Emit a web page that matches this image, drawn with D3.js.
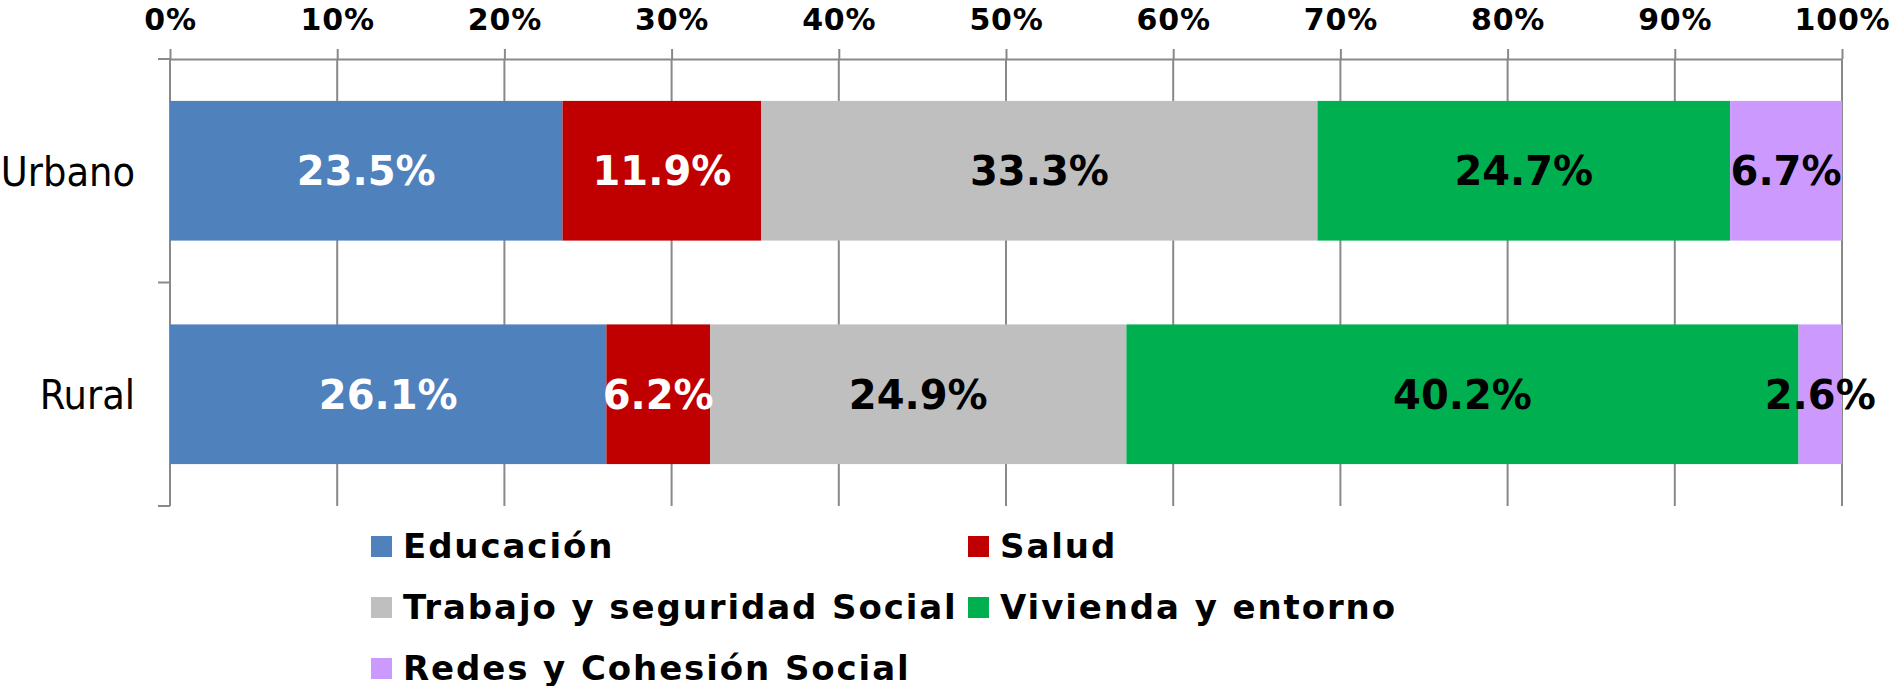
<!DOCTYPE html>
<html>
<head>
<meta charset="utf-8">
<script src="https://cdn.jsdelivr.net/npm/d3@7"></script>
<style>
  body { margin: 0; background: #fff; }
  svg { display: block; }
</style>
</head>
<body>
<svg id="chart" width="1890" height="686"></svg>
<script>
// categories and series
const categories = ["Urbano", "Rural"];
const seriesNames = ["Educación", "Salud", "Trabajo y seguridad Social", "Vivienda y entorno", "Redes y Cohesión Social"];
const educacion = [23.5, 26.1];
const salud = [11.9, 6.2];
const trabajo = [33.3, 24.9];
const vivienda = [24.7, 40.2];
const redes = [6.7, 2.6];
const xTicks = [0, 0.1, 0.2, 0.3, 0.4, 0.5, 0.6, 0.7, 0.8, 0.9, 1];

const colors = ["#4F81BD", "#C00000", "#BFBFBF", "#00B050", "#CC99FF"];
const labelColors = ["#fff", "#fff", "#000", "#000", "#000"];

let dims = {
    width: 1890, height: 686,
    margin: { top: 59, bottom: 180, left: 170, right: 48 }
};

// rows for d3.stack
const seriesValues = [educacion, salud, trabajo, vivienda, redes];
const rows = categories.map((c, i) => {
    let r = { cat: c };
    seriesNames.forEach((s, j) => r[s] = seriesValues[j][i]);
    return r;
});

const stacked = d3.stack()
    .keys(seriesNames)
    .offset(d3.stackOffsetExpand)(rows);

const svg = d3.select("#chart");
const plotBottom = dims.height - dims.margin.bottom;

const x = d3.scaleLinear()
    .domain([0, 1])
    .range([dims.margin.left, dims.width - dims.margin.right]);

const y = d3.scaleBand()
    .domain(categories)
    .range([dims.margin.top, plotBottom])
    .paddingInner(0.375)
    .paddingOuter(0.1875);

const gridColor = "#898989";
const boldFont = "'DejaVu Sans', Verdana, sans-serif";

// vertical gridlines
svg.append("g")
    .selectAll("line")
    .data(xTicks)
    .join("line")
    .attr("x1", d => x(d)).attr("x2", d => x(d))
    .attr("y1", dims.margin.top).attr("y2", plotBottom)
    .attr("stroke", gridColor)
    .attr("stroke-width", 2);

// top axis
const xAxis = svg.append("g")
    .attr("transform", "translate(0," + dims.margin.top + ")")
    .call(d3.axisTop(x).tickValues(xTicks).tickFormat(d3.format(".0%")).tickSize(10).tickPadding(19).tickSizeOuter(0));
xAxis.select(".domain").attr("stroke", gridColor).attr("stroke-width", 2);
xAxis.selectAll(".tick line").attr("stroke", gridColor).attr("stroke-width", 2);
xAxis.selectAll(".tick text")
    .attr("font-family", boldFont)
    .attr("font-weight", "bold")
    .attr("font-size", "30px")
    .attr("letter-spacing", "0.8px")
    .attr("fill", "#000");

// left axis line with boundary ticks
const halfGap = y.step() * y.paddingInner() / 2;
const bounds = categories.map(c => y(c) - halfGap).concat([plotBottom]);
bounds[0] = dims.margin.top;
svg.append("line")
    .attr("x1", x(0)).attr("x2", x(0))
    .attr("y1", dims.margin.top).attr("y2", plotBottom)
    .attr("stroke", gridColor).attr("stroke-width", 2);
svg.append("g")
    .selectAll("line")
    .data(bounds)
    .join("line")
    .attr("x1", x(0) - 12).attr("x2", x(0))
    .attr("y1", d => d).attr("y2", d => d)
    .attr("stroke", gridColor).attr("stroke-width", 2);

// category labels
svg.append("g")
    .selectAll("text")
    .data(categories)
    .join("text")
    .attr("x", x(0) - 35)
    .attr("y", d => y(d) + y.bandwidth() / 2)
    .attr("dy", "0.36em")
    .attr("text-anchor", "end")
    .attr("font-family", "'DejaVu Sans Condensed', 'DejaVu Sans', sans-serif")
    .attr("font-size", "41px")
    .attr("fill", "#000")
    .text(d => d);

// bars
const layers = svg.append("g")
    .selectAll("g")
    .data(stacked)
    .join("g")
    .attr("fill", (d, i) => colors[i]);

layers.selectAll("rect")
    .data(d => d)
    .join("rect")
    .attr("x", d => x(d[0]))
    .attr("width", d => x(d[1]) - x(d[0]))
    .attr("y", d => y(d.data.cat))
    .attr("height", y.bandwidth());

// value labels
svg.append("g")
    .selectAll("g")
    .data(stacked)
    .join("g")
    .attr("fill", (d, i) => labelColors[i])
    .selectAll("text")
    .data(d => d.map(p => ({ p: p, v: p.data[d.key] })))
    .join("text")
    .attr("x", d => (x(d.p[0]) + x(d.p[1])) / 2)
    .attr("y", d => y(d.p.data.cat) + y.bandwidth() / 2)
    .attr("dy", "0.36em")
    .attr("text-anchor", "middle")
    .attr("font-family", boldFont)
    .attr("font-weight", "bold")
    .attr("font-size", "40px")
    .text(d => d.v.toFixed(1) + "%");

// legend
const legendCols = [371, 968];
const legendRows = [536, 597, 658];
const legend = svg.append("g")
    .selectAll("g")
    .data(seriesNames)
    .join("g")
    .attr("transform", (d, i) => `translate(${legendCols[i % 2]},${legendRows[Math.floor(i / 2)]})`);

legend.append("rect")
    .attr("width", 21).attr("height", 21)
    .attr("fill", (d, i) => colors[i]);

legend.append("text")
    .attr("x", 32)
    .attr("y", 22)
    .attr("font-family", boldFont)
    .attr("font-weight", "bold")
    .attr("font-size", "34px")
    .attr("letter-spacing", "1.9px")
    .attr("fill", "#000")
    .text(d => d);
</script>
</body>
</html>
